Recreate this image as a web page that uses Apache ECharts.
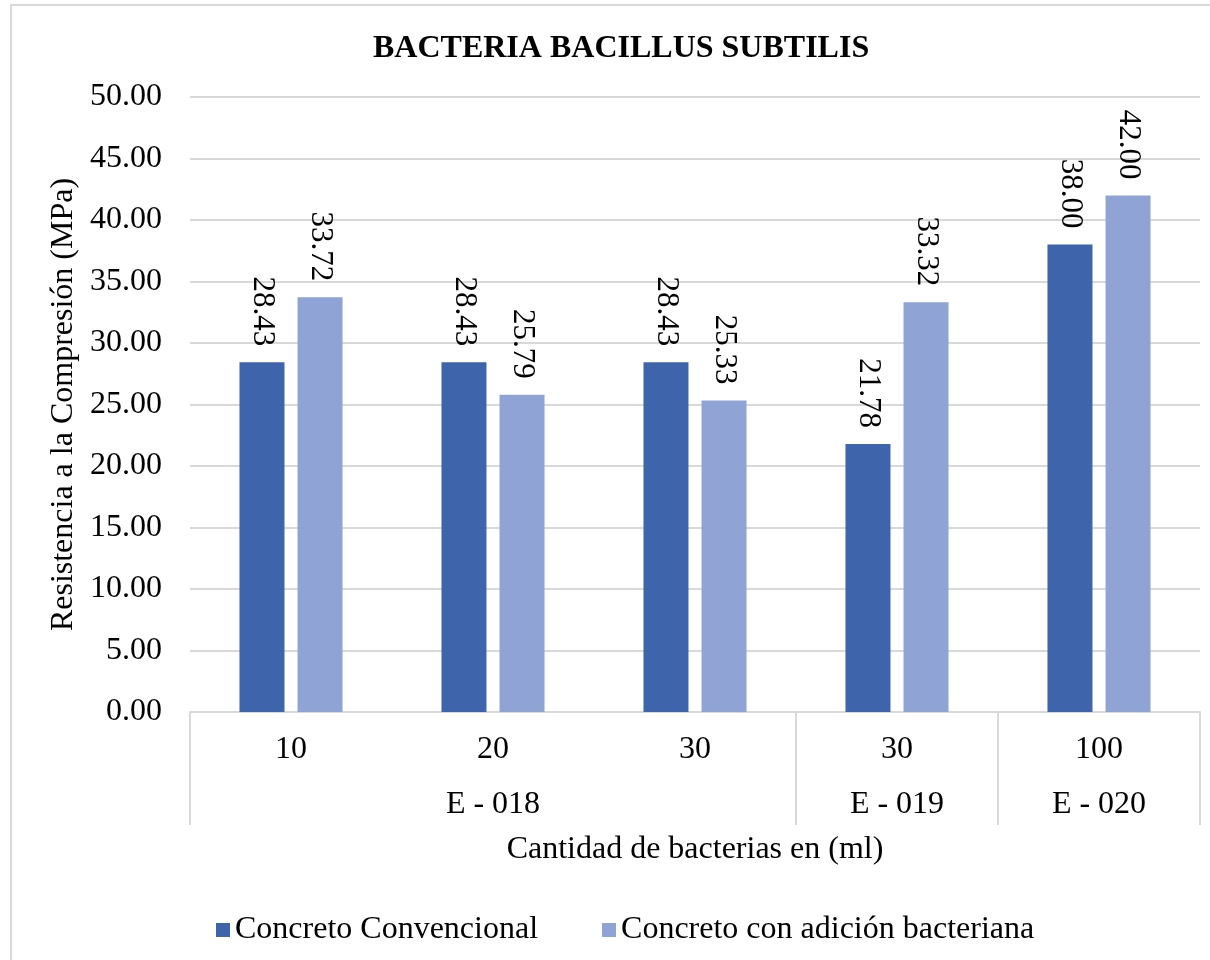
<!DOCTYPE html>
<html>
<head>
<meta charset="utf-8">
<script src="https://cdn.jsdelivr.net/npm/echarts@6/dist/echarts.min.js"></script>
<style>
  html, body { margin: 0; padding: 0; background: #fff; }
  #chart { width: 1210px; height: 960px; }
</style>
</head>
<body>
<div id="chart"></div>
<script>
// Bacillus subtilis compressive strength per dose and standard
const doses = ['10', '20', '30', '30', '100'];
const groupNames = ['E - 018', 'E - 019', 'E - 020'];
const groupSpans = [3, 1, 1];
const conventional = [28.43, 28.43, 28.43, 21.78, 38.00];
const withBacteria = [33.72, 25.79, 25.33, 33.32, 42.00];
const seriesNames = ['Concreto Convencional', 'Concreto con adición bacteriana'];

const FONT = '"Liberation Serif", "Times New Roman", serif';
const GRAY = '#d9d9d9';
const FS = 32;

// group boundaries and centres along the category band (0..n)
const boundaries = [0];
groupSpans.forEach(s => boundaries.push(boundaries[boundaries.length - 1] + s));
const centers = groupSpans.map((s, i) => boundaries[i] + s / 2);

const chart = echarts.init(document.getElementById('chart'));

const labelStyle = {
  show: true,
  position: 'top',
  rotate: -90,
  align: 'right',
  verticalAlign: 'middle',
  distance: 16,
  fontFamily: FONT,
  fontSize: 31,
  color: '#000',
  formatter: p => p.value.toFixed(2)
};

chart.setOption({
  animation: false,
  textStyle: { fontFamily: FONT },
  graphic: [{
    type: 'rect',
    shape: { x: 11, y: 5, width: 1300, height: 1100 },
    style: { fill: 'none', stroke: GRAY, lineWidth: 2 },
    silent: true
  }],
  title: {
    text: 'BACTERIA BACILLUS SUBTILIS',
    left: 368,
    top: 28,
    textStyle: { fontFamily: FONT, fontSize: FS, fontWeight: 'bold', color: '#000' }
  },
  legend: {
    data: seriesNames,
    left: 211,
    top: 909,
    itemWidth: 14,
    itemHeight: 14,
    itemGap: 64,
    icon: 'rect',
    textStyle: { fontFamily: FONT, fontSize: FS, color: '#000' }
  },
  grid: { left: 190, right: 10, top: 97, bottom: 248, containLabel: false },
  xAxis: [{
    type: 'category',
    data: doses,
    position: 'bottom',
    axisLine: { show: true, lineStyle: { color: GRAY, width: 2 } },
    axisTick: { show: false },
    axisLabel: { margin: 22, fontFamily: FONT, fontSize: FS, color: '#000' },
    name: 'Cantidad de bacterias en (ml)',
    nameLocation: 'middle',
    nameGap: 122,
    nameTextStyle: { fontFamily: FONT, fontSize: FS, color: '#000' }
  }, {
    type: 'value',
    min: 0,
    max: doses.length,
    position: 'bottom',
    axisLine: { show: false },
    splitLine: { show: false },
    axisTick: {
      show: true,
      customValues: boundaries,
      length: 113,
      lineStyle: { color: GRAY, width: 2 }
    },
    axisLabel: {
      show: true,
      customValues: centers,
      margin: 77,
      fontFamily: FONT,
      fontSize: FS,
      color: '#000',
      formatter: v => {
        const i = centers.findIndex(c => Math.abs(c - v) < 1e-6);
        return i >= 0 ? groupNames[i] : '';
      }
    }
  }],
  yAxis: {
    type: 'value',
    min: 0,
    max: 50,
    interval: 5,
    axisLine: { show: false },
    axisTick: { show: false },
    splitLine: { lineStyle: { color: GRAY, width: 2 } },
    axisLabel: {
      margin: 28,
      fontFamily: FONT,
      fontSize: FS,
      color: '#000',
      formatter: v => v.toFixed(2)
    },
    name: 'Resistencia a la Compresión (MPa)',
    nameLocation: 'middle',
    nameGap: 109,
    nameTextStyle: { fontFamily: FONT, fontSize: FS, color: '#000' }
  },
  series: [{
    name: seriesNames[0],
    type: 'bar',
    xAxisIndex: 0,
    data: conventional,
    barWidth: 45,
    barGap: '29%',
    itemStyle: { color: '#3E64AC' },
    label: labelStyle
  }, {
    name: seriesNames[1],
    type: 'bar',
    xAxisIndex: 0,
    data: withBacteria,
    barWidth: 45,
    barGap: '29%',
    itemStyle: { color: '#8FA4D4' },
    label: labelStyle
  }]
});
</script>
</body>
</html>
